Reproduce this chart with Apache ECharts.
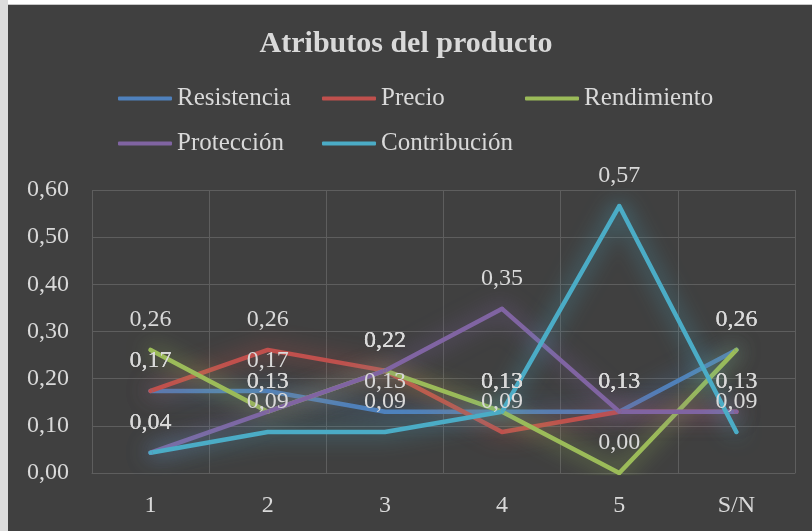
<!DOCTYPE html>
<html>
<head>
<meta charset="utf-8">
<script src="https://cdn.jsdelivr.net/npm/echarts@6/dist/echarts.min.js"></script>
<style>
html,body{margin:0;padding:0;background:#ffffff;}
#chart{position:absolute;left:0;top:0;width:812px;height:531px;}
#topband{position:absolute;left:0;top:0;width:812px;height:4px;background:#ffffff;border-bottom:1px solid #c8c8c8;}
#leftband{position:absolute;left:0;top:0;width:8px;height:531px;background:#dcdcdc;}
</style>
</head>
<body>
<div id="chart"></div>
<div id="topband"></div>
<div id="leftband"></div>
<script>
const titleText = 'Atributos del producto';
const categories = ['1', '2', '3', '4', '5', 'S/N'];
const seriesNames = ['Resistencia', 'Precio', 'Rendimiento', 'Protección', 'Contribución'];
const resistencia = [0.174, 0.174, 0.130, 0.130, 0.130, 0.261];
const precio = [0.174, 0.261, 0.217, 0.087, 0.130, 0.130];
const rendimiento = [0.261, 0.130, 0.217, 0.130, 0.000, 0.261];
const proteccion = [0.043, 0.130, 0.217, 0.348, 0.130, 0.130];
const contribucion = [0.043, 0.087, 0.087, 0.130, 0.566, 0.087];
const yTicks = [0, 0.1, 0.2, 0.3, 0.4, 0.5, 0.6];

const colors = ['#4f81bd', '#c0504d', '#9bbb59', '#8064a2', '#4bacc6'];
const glows = ['rgba(79,129,189,0.9)', 'rgba(192,80,77,0.9)', 'rgba(155,187,89,0.9)', 'rgba(128,100,162,0.9)', 'rgba(75,172,198,0.9)'];
const values = [resistencia, precio, rendimiento, proteccion, contribucion];
const legendPos = [[118, 86], [322, 86], [525, 86], [118, 131], [322, 131]];

const FONT = '"Liberation Serif", "Times New Roman", serif';
const TXT = '#d9d9d9';
const fmt = v => Number(v).toFixed(2).replace('.', ',');

const chart = echarts.init(document.getElementById('chart'), null, {renderer: 'canvas'});
chart.setOption({
  backgroundColor: '#404040',
  animation: false,
  title: {
    text: titleText,
    left: 'center',
    top: 29,
    padding: 0,
    textStyle: {color: TXT, fontFamily: FONT, fontWeight: 'bold', fontSize: 30}
  },
  legend: seriesNames.map((n, i) => ({
    data: [{name: n, itemStyle: {color: colors[i]}}],
    left: legendPos[i][0],
    top: legendPos[i][1],
    padding: 0,
    icon: 'roundRect',
    itemWidth: 54,
    itemHeight: 4,
    selectedMode: false,
    textStyle: {color: TXT, fontFamily: FONT, fontSize: 25, padding: [0, 0, 0, 0]}
  })),
  grid: {left: 92, right: 17, top: 190, bottom: 58},
  xAxis: {
    type: 'category',
    data: categories,
    boundaryGap: true,
    axisLine: {show: true, lineStyle: {color: '#5e5e5e', width: 1}},
    axisTick: {show: false},
    splitLine: {show: true, lineStyle: {color: '#5e5e5e', width: 1}},
    axisLabel: {color: TXT, fontFamily: FONT, fontSize: 24, margin: 21}
  },
  yAxis: {
    type: 'value',
    min: yTicks[0],
    max: yTicks[yTicks.length - 1],
    interval: 0.1,
    axisLine: {show: false},
    axisTick: {show: false},
    splitLine: {show: true, lineStyle: {color: '#5e5e5e', width: 1}},
    axisLabel: {color: TXT, fontFamily: FONT, fontSize: 24, margin: 23, formatter: fmt}
  },
  series: seriesNames.map((n, i) => ({
    name: n,
    type: 'line',
    data: values[i],
    symbol: 'circle',
    symbolSize: 4,
    itemStyle: {color: colors[i]},
    lineStyle: {color: colors[i], width: 4.5, shadowBlur: 22, shadowColor: glows[i], cap: 'round', join: 'round'},
    label: {
      show: true,
      position: 'top',
      distance: 16,
      color: TXT,
      fontFamily: FONT,
      fontSize: 24,
      formatter: p => fmt(p.value)
    }
  }))
});
</script>
</body>
</html>
